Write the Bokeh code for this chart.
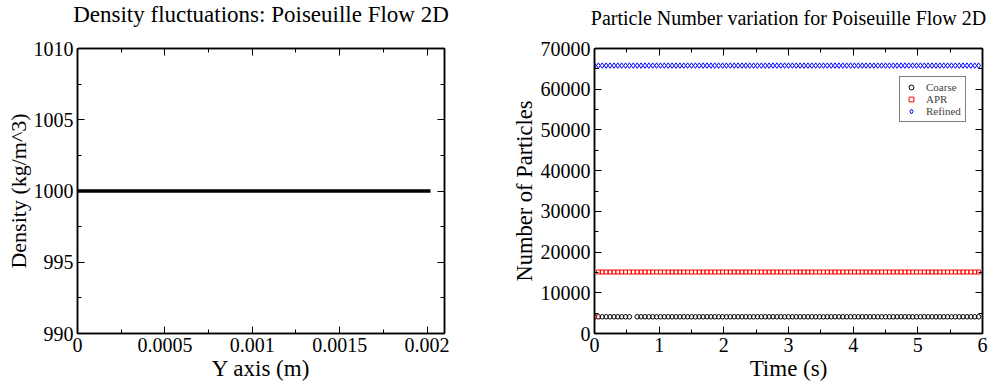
from bokeh.plotting import figure
from bokeh.layouts import row
from bokeh.models import (LinearAxis, FixedTicker, CustomJSTickFormatter, Legend,
                          LegendItem, Range1d, CustomLabelingPolicy)
from bokeh.embed import file_html
from bokeh.resources import INLINE

NAN = float("nan")
FONT = "Liberation Serif"

# ---------------- data: left panel ----------------
y_position_m = [0.0, 0.0002, 0.0004, 0.0006, 0.0008, 0.001, 0.0012, 0.0014,
                0.0016, 0.0018, 0.00202]
density = [1000.0, 1000.0, 1000.0, 1000.0, 1000.0, 1000.0, 1000.0, 1000.0,
           1000.0, 1000.0, 1000.0]
left_xticks = [0.0, 0.0005, 0.001, 0.0015, 0.002]
left_xminor = [0.00025, 0.00075, 0.00125, 0.00175]
left_yticks = [990, 995, 1000, 1005, 1010]
left_yminor = [992.5, 997.5, 1002.5, 1007.5]

# ---------------- data: right panel ----------------
time_s = [
    0.00, 0.06, 0.12, 0.18, 0.24, 0.30, 0.36, 0.42, 0.48, 0.54,
    0.60, 0.66, 0.72, 0.78, 0.84, 0.90, 0.96, 1.02, 1.08, 1.14,
    1.20, 1.26, 1.32, 1.38, 1.44, 1.50, 1.56, 1.62, 1.68, 1.74,
    1.80, 1.86, 1.92, 1.98, 2.04, 2.10, 2.16, 2.22, 2.28, 2.34,
    2.40, 2.46, 2.52, 2.58, 2.64, 2.70, 2.76, 2.82, 2.88, 2.94,
    3.00, 3.06, 3.12, 3.18, 3.24, 3.30, 3.36, 3.42, 3.48, 3.54,
    3.60, 3.66, 3.72, 3.78, 3.84, 3.90, 3.96, 4.02, 4.08, 4.14,
    4.20, 4.26, 4.32, 4.38, 4.44, 4.50, 4.56, 4.62, 4.68, 4.74,
    4.80, 4.86, 4.92, 4.98, 5.04, 5.10, 5.16, 5.22, 5.28, 5.34,
    5.40, 5.46, 5.52, 5.58, 5.64, 5.70, 5.76, 5.82, 5.88, 5.94,
]
coarse_particles = [4100] * 10 + [NAN] + [4100] * 89
apr_particles = [4100] + [15100] * 99
refined_particles = [65800] * 100
right_xticks = [0, 1, 2, 3, 4, 5, 6]
right_xminor = [0.5, 1.5, 2.5, 3.5, 4.5, 5.5]
right_yticks = [0, 10000, 20000, 30000, 40000, 50000, 60000, 70000]
right_yminor = [5000, 15000, 25000, 35000, 45000, 55000, 65000]

left_title = "Density fluctuations: Poiseuille Flow 2D"
right_title = "Particle Number variation for Poiseuille Flow 2D"

HIDE_ALL = "for (let i = 0; i < indices.size; i++) { indices.unset(i) }\nreturn indices"


def style_axis(ax, ticks, minor, show_labels=True, fmt=None, label_size="22px",
               tick_standoff=4, label_standoff=1):
    ax.ticker = FixedTicker(ticks=ticks, minor_ticks=minor)
    if fmt is not None:
        ax.formatter = fmt
    ax.axis_line_color = "black"
    ax.axis_line_width = 1.5
    ax.major_tick_in = 7
    ax.major_tick_out = 0
    ax.minor_tick_in = 4
    ax.minor_tick_out = 0
    ax.major_tick_line_color = "black"
    ax.minor_tick_line_color = "black"
    ax.major_label_text_font = FONT
    ax.major_label_text_color = "black"
    ax.axis_label_text_font = FONT
    ax.axis_label_text_font_style = "normal"
    ax.axis_label_text_font_size = label_size
    ax.axis_label_text_color = "black"
    if show_labels:
        ax.major_label_text_font_size = "20px"
        ax.major_label_standoff = tick_standoff
        ax.axis_label_standoff = label_standoff
    else:
        ax.major_label_policy = CustomLabelingPolicy(code=HIDE_ALL)
        ax.major_label_text_font_size = "0px"
        ax.major_label_standoff = 0


def spacer_axis(gap, at):
    # invisible (white) axis that only reserves room between the frame and the title
    return LinearAxis(ticker=FixedTicker(ticks=[at]), major_tick_in=0,
                      major_tick_out=gap, minor_tick_in=0, minor_tick_out=0,
                      major_tick_line_color="white", minor_tick_line_color=None,
                      axis_line_color=None, major_label_text_font_size="0px",
                      major_label_standoff=0,
                      major_label_policy=CustomLabelingPolicy(code=HIDE_ALL))


def make_fig(title, fw, fh, bl, br, xr, yr, title_size, gap):
    p = figure(frame_width=fw, frame_height=fh, min_border_left=bl,
               min_border_right=br, min_border_top=48, min_border_bottom=50,
               x_range=xr, y_range=yr, output_backend="svg",
               toolbar_location=None, title=title)
    p.title.text_font = FONT
    p.title.text_font_size = title_size
    p.title.text_font_style = "normal"
    p.title.text_color = "black"
    p.title.align = "center"
    p.title.vertical_align = "top"
    p.title.standoff = 0
    p.grid.visible = False
    p.outline_line_color = "black"
    p.outline_line_width = 1.5
    p.background_fill_color = "white"
    p.border_fill_color = "white"
    p.add_layout(LinearAxis(), "right")
    p.add_layout(LinearAxis(), "above")
    p.add_layout(spacer_axis(gap, xr.start), "above")
    return p


# ---------------- left figure ----------------
p1 = make_fig(left_title, 367, 285, 77, 56, Range1d(0, 0.0021),
              Range1d(990, 1010), "23px", 20)
fmt = CustomJSTickFormatter(code="return String(parseFloat(tick.toPrecision(6)));")
style_axis(p1.below[0], left_xticks, left_xminor, True, fmt, "23px", 4, 1)
style_axis(p1.left[0], left_yticks, left_yminor, True, None, "22px", 4, 0)
style_axis(p1.right[0], left_yticks, left_yminor, False)
style_axis(p1.above[0], left_xticks, left_xminor, False)
p1.below[0].axis_label = "Y axis (m)"
p1.left[0].axis_label = "Density (kg/m^3)"
p1.line(y_position_m, density, line_width=3.5, line_color="black")

# ---------------- right figure ----------------
p2 = make_fig(right_title, 388, 285, 94, 7, Range1d(0, 6), Range1d(0, 70000),
              "20px", 18)
style_axis(p2.below[0], right_xticks, right_xminor, True, None, "23px", 4, 1)
style_axis(p2.left[0], right_yticks, right_yminor, True, None, "22.5px", 4, 1)
style_axis(p2.right[0], right_yticks, right_yminor, False)
style_axis(p2.above[0], right_xticks, right_xminor, False)
p2.below[0].axis_label = "Time (s)"
p2.left[0].axis_label = "Number of Particles"

r_coarse = p2.scatter(time_s, coarse_particles, marker="circle", size=4.5,
                      fill_color=None, line_color="black", line_width=1)
r_apr = p2.scatter(time_s, apr_particles, marker="square", size=4,
                   fill_color=None, line_color="red", line_width=1)
r_ref = p2.scatter(time_s, refined_particles, marker="diamond", size=5.5,
                   fill_color=None, line_color="blue", line_width=1)

legend = Legend(items=[LegendItem(label="Coarse", renderers=[r_coarse]),
                       LegendItem(label="APR", renderers=[r_apr]),
                       LegendItem(label="Refined", renderers=[r_ref])],
                location=(305, 211), label_text_font=FONT,
                label_text_font_size="11px", border_line_color="black",
                border_line_width=1.5, padding=4, spacing=0, label_height=12,
                glyph_height=12, glyph_width=14, label_standoff=8, margin=0,
                background_fill_color="white", background_fill_alpha=1)
p2.add_layout(legend)

layout = row(p1, p2)
open("out.html", "w").write(file_html(layout, INLINE))
